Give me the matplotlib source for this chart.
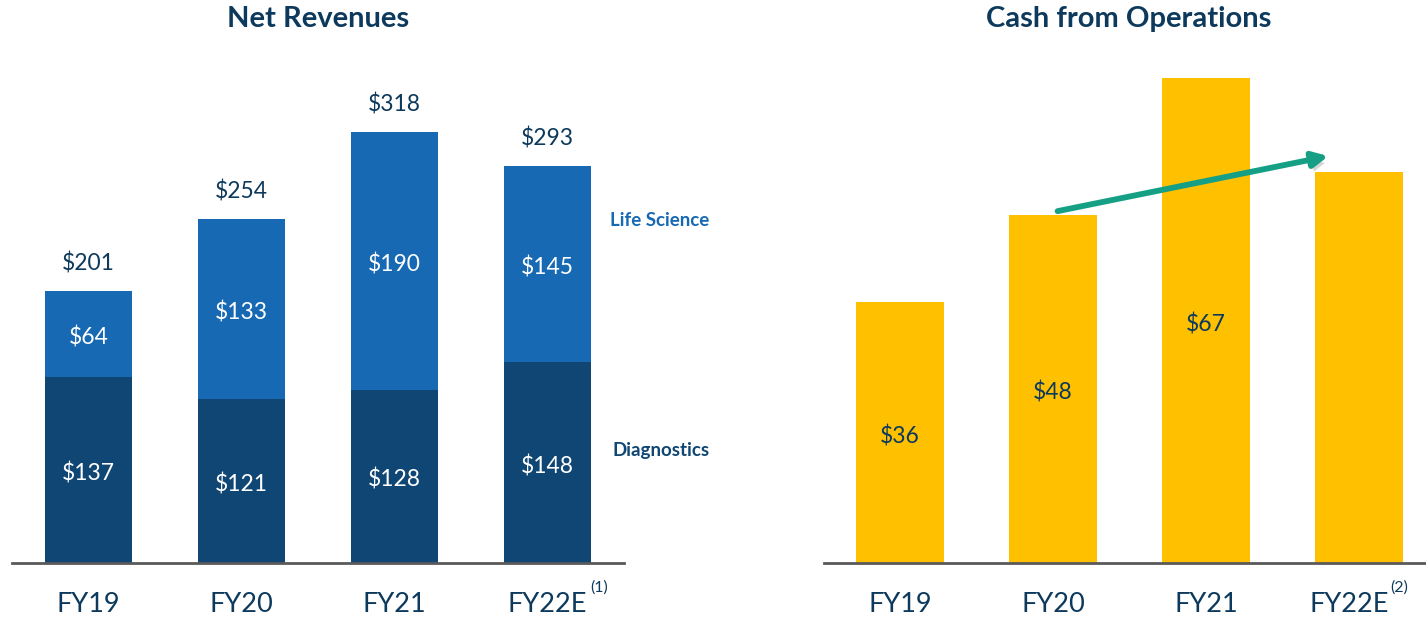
import matplotlib
matplotlib.use("Agg")
import matplotlib.pyplot as plt
import matplotlib.patheffects as pe

plt.rcParams['font.family'] = ['Lato', 'DejaVu Sans']

categories = ["FY19", "FY20", "FY21", "FY22E"]
superscripts_left = ["", "", "", "(1)"]
superscripts_right = ["", "", "", "(2)"]
diagnostics = [137, 121, 128, 148]
life_science = [64, 133, 190, 145]
totals = [201, 254, 318, 293]
cash_ops = [36, 48, 67, 54]
cash_labels = ["$36", "$48", "$67", ""]
arrow_start = (1.03, 48.6)
arrow_end = (2.8, 56.2)

DARK = "#0F4674"
LIGHT = "#1769B3"
YELLOW = "#FFC000"
TEXT = "#0D3A5C"
TEAL = "#15A085"

W, H = 1426, 619
fig = plt.figure(figsize=(W / 100, H / 100), dpi=100)

base = (H - 563) / H
axL = fig.add_axes([12 / W, base, 612 / W, 350 * 1.355 / H])
axR = fig.add_axes([823.5 / W, base, 612 / W, 70 * 7.24 / H])

x = list(range(len(categories)))
bw = 0.57
VFS = 16.5
TFS = 19.5
PAD = 21

axL.bar(x, diagnostics, width=bw, color=DARK, zorder=2)
axL.bar(x, life_science, width=bw, bottom=diagnostics, color=LIGHT, zorder=2)
for i in x:
    axL.text(i, diagnostics[i] / 2 - 2.5, f"${diagnostics[i]}", ha="center", va="center",
             color="white", fontsize=VFS)
    axL.text(i, diagnostics[i] + life_science[i] / 2 - 2.5, f"${life_science[i]}", ha="center",
             va="center", color="white", fontsize=VFS)
    axL.text(i, totals[i] + 12, f"${totals[i]}", ha="center", va="bottom",
             color=TEXT, fontsize=VFS)
axL.set_xlim(-0.5, 3.5)
axL.set_ylim(0, 350)

axR.bar(x, cash_ops, width=bw, color=YELLOW, zorder=2)
for i in x:
    if cash_labels[i]:
        axR.text(i, cash_ops[i] / 2 - 0.5, cash_labels[i], ha="center", va="center",
                 color=TEXT, fontsize=VFS)
axR.set_xlim(-0.5, 3.5)
axR.set_ylim(0, 70)

ann = axR.annotate("", xy=arrow_end, xytext=arrow_start,
                   arrowprops=dict(arrowstyle="-|>,head_length=0.9,head_width=0.45",
                                   color=TEAL, lw=4.2, shrinkA=0, shrinkB=0),
                   zorder=5)
ann.arrow_patch.set_path_effects([pe.SimplePatchShadow(offset=(2, -4), alpha=0.25,
                                                       shadow_rgbFace="#555555"),
                                  pe.Normal()])

for ax in (axL, axR):
    for s in ("top", "left", "right"):
        ax.spines[s].set_visible(False)
    ax.spines["bottom"].set_color("#595959")
    ax.spines["bottom"].set_linewidth(2)
    ax.set_yticks([])
    ax.set_xticks(x)
    ax.tick_params(axis="x", length=0, pad=PAD)

# left: normal tick labels, superscript after last label
axL.set_xticklabels(categories, fontsize=TFS, color=TEXT)
for i, s in enumerate(superscripts_left):
    if s:
        axL.annotate(s, xy=(i, 0), xycoords="data", xytext=(30.6, -18),
                     textcoords="offset points", fontsize=11.5, color=TEXT,
                     ha="left", va="center", annotation_clip=False)

# right: last label shifted slightly left so superscript fits
right_labels = [c if not superscripts_right[i] else "" for i, c in enumerate(categories)]
axR.set_xticklabels(right_labels, fontsize=TFS, color=TEXT)
for i, s in enumerate(superscripts_right):
    if s:
        axR.annotate(categories[i], xy=(i, 0), xycoords="data", xytext=(-7, -PAD),
                     textcoords="offset points", fontsize=TFS, color=TEXT,
                     ha="center", va="top", annotation_clip=False)
        axR.annotate(s, xy=(i, 0), xycoords="data", xytext=(22.5, -18),
                     textcoords="offset points", fontsize=11.5, color=TEXT,
                     ha="left", va="center", annotation_clip=False)

axL.text(3.73, 253, "Life Science", ha="center", va="center", color=LIGHT,
         fontsize=13.5, fontweight="bold", clip_on=False)
axL.text(3.74, 83, "Diagnostics", ha="center", va="center", color=DARK,
         fontsize=13.5, fontweight="bold", clip_on=False)

fig.text(318 / W, 1 - 19 / H, "Net Revenues", ha="center", va="center",
         fontsize=21, fontweight="bold", color=TEXT)
fig.text(1129 / W, 1 - 19 / H, "Cash from Operations", ha="center", va="center",
         fontsize=21, fontweight="bold", color=TEXT)

fig.savefig("out.png", dpi=100)
